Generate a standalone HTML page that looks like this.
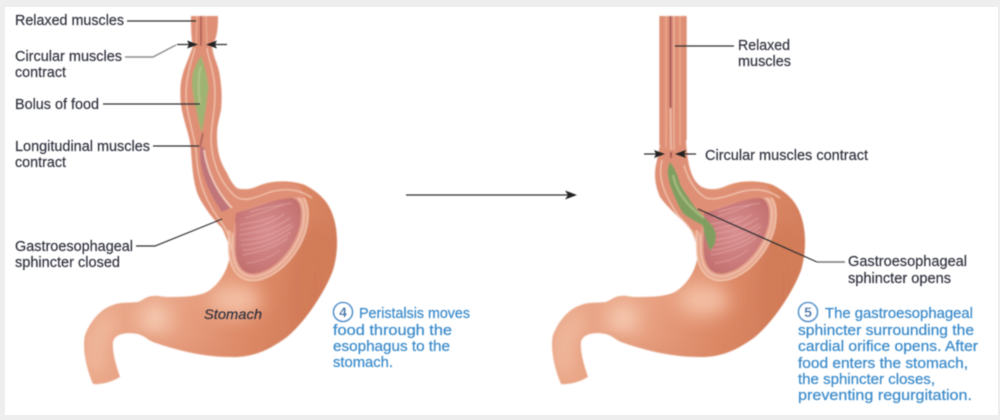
<!DOCTYPE html>
<html><head><meta charset="utf-8"><style>
html,body{margin:0;padding:0;background:#eeeeee}
svg{display:block}
.l{font:14.5px "Liberation Sans",Arial,sans-serif;fill:#2c2d3a;stroke:#2c2d3a;stroke-width:.15}
.b{font:14.5px "Liberation Sans",Arial,sans-serif;fill:#3d8ccb;stroke:#3d8ccb;stroke-width:.25}
</style></head><body>
<svg width="1000" height="420" viewBox="0 0 1000 420" xmlns="http://www.w3.org/2000/svg">
<defs>
<filter id="s" x="-5%" y="-5%" width="110%" height="110%"><feGaussianBlur stdDeviation="0.85"/></filter>
<filter id="t" x="-5%" y="-20%" width="110%" height="140%"><feGaussianBlur stdDeviation="0.55"/></filter>
<filter id="h" x="-50%" y="-50%" width="200%" height="200%"><feGaussianBlur stdDeviation="9"/></filter>
<linearGradient id="body" x1="0" y1="0" x2="1" y2="0.25">
<stop offset="0" stop-color="#eaa98b"/><stop offset="0.5" stop-color="#e8a283"/><stop offset="0.8" stop-color="#dc8865"/><stop offset="1" stop-color="#d27d5b"/>
</linearGradient>
<radialGradient id="cav" cx="0.5" cy="0.45" r="0.6">
<stop offset="0" stop-color="#d98f90"/><stop offset="1" stop-color="#c2706f"/>
</radialGradient>
<path id="sil" d="M230 247C231 265 222 281 210 290C203 295 193 297 170 297C160 297 158 295 153 296C147 296 143 300 138 302C128 303 120 302 113 305C100 309 90 322 85 335C82 350 87 370 93 384C100 385 112 382 120 377C116 365 112 352 113 342C115 333 128 332 138 334C145 336 148 340 153 342C170 348 200 357 230 357C255 358 272 348 287 337C305 322 325 292 333 270C339 250 338 228 332 213C327 200 318 192 305 185C290 180 272 180 258 186C250 190 240 190 234 187L205 200L222 228Z"/>
<path id="cavp" d="M233 213C245 212 270 200 287 198C298 196 302 205 301 218C300 240 280 268 258 273C245 276 238 268 236 255C234 240 238 225 233 213Z"/>
<clipPath id="cl"><use href="#sil"/></clipPath>
<g id="st">
<use href="#sil" fill="url(#body)"/>
<g clip-path="url(#cl)">
<ellipse cx="155" cy="318" rx="15" ry="15" fill="#f7cbb4" filter="url(#h)"/>
<path d="M97 372C92 350 95 330 113 318" fill="none" stroke="#f6c7ae" stroke-width="10" filter="url(#h)"/>
<ellipse cx="235" cy="300" rx="26" ry="16" fill="#f4bfa4" filter="url(#h)"/>
<ellipse cx="315" cy="285" rx="24" ry="60" fill="#d27a58" filter="url(#h)"/>
<path d="M130 340C170 352 200 358 240 358" fill="none" stroke="#d98a6c" stroke-width="6" filter="url(#h)"/>
</g>
<use href="#cavp" fill="none" stroke="#f3c9b4" stroke-width="15" stroke-linejoin="round"/>
<use href="#cavp" fill="none" stroke="#e8a88e" stroke-width="12.5" stroke-linejoin="round"/>
<use href="#cavp" fill="none" stroke="#f3cdbc" stroke-width="6.5" stroke-linejoin="round"/>
<use href="#cavp" fill="none" stroke="#e6a08a" stroke-width="4.5" stroke-linejoin="round"/>
<use href="#cavp" fill="url(#cav)"/>
<g fill="none" stroke="#e8adab" stroke-width="0.8" opacity="0.75">
<path d="M240 225C250 222 262 222 275 216"/><path d="M240 230C252 228 268 226 284 214"/><path d="M240 235C255 232 270 232 290 218"/><path d="M241 240C255 240 272 236 291 224"/><path d="M241 245C255 245 275 240 293 226"/><path d="M243 250C255 250 275 244 291 232"/><path d="M243 255C258 252 275 248 288 238"/><path d="M247 263C258 262 270 258 280 250"/><path d="M245 218C258 214 270 210 285 204"/><path d="M250 212C262 208 275 206 292 203"/>
</g>
</g>
</defs>
<rect x="0" y="0" width="1000" height="420" fill="#eeeeee"/>
<rect x="5" y="7" width="993" height="408" fill="#ffffff"/>

<g filter="url(#s)">
<use href="#st"/>
<use href="#st" transform="translate(468,0)"/>

<!-- left oesophagus -->
<path d="M191 16L218 16C218 30 217 38 212 46C213 58 219 65 220 77C222 90 222 100 221 110C219 120 217 125 217 135C217 150 219 160 227 173C230 180 234 187 240 190C248 192 256 188 262 186C272 182 288 182 300 186L305 198C285 196 262 203 236 213L233 235C232 228 226 232 222 228C214 220 204 208 198 195C193 182 192 165 191 150C190 135 183 120 181 105C180 95 180 85 182 77C184 68 189 58 193 46C191 38 191 25 191 16Z" fill="#df8f74"/>
<path d="M195 48C192 60 186 75 186 95C186 112 193 130 196 150C197 175 202 195 218 218C224 226 230 232 231 250" fill="none" stroke="#f3c8b3" stroke-width="1.2"/>
<path d="M207 48C208 60 215 70 215 95C215 112 211 125 211 140C212 165 222 185 236 197C245 202 255 198 270 192C285 188 300 189 312 198" fill="none" stroke="#f3c8b3" stroke-width="1.2"/>
<path d="M200 147C199 165 204 185 222 212L230 208C214 190 208 170 204 147Z" fill="#c0747a"/>
<path d="M204 150C207 170 215 190 232 208" fill="none" stroke="#f5d3c5" stroke-width="1.5"/>
<path d="M201 16L201 46M203 133L200 147" stroke="#9a4a4e" stroke-width="1.3" fill="none"/>
<path d="M197 16L196 45M206 16L207 45" stroke="#edb49e" stroke-width="1" fill="none"/>
<path d="M201 56C196 64 192 72 192 81C192 93 195 105 197 113C198 120 200 127 202 133C204 120 206 108 207 98C208 92 209 88 208 84C207 74 204 64 201 56Z" fill="#9fb372"/>
<path d="M201 66C198 75 198 88 200 105" stroke="#b4c389" stroke-width="2" fill="none"/>

<!-- right oesophagus -->
<path d="M660 16L686 16L686 140C687 160 690 175 697 183C705 192 720 192 733 188C745 184 756 182 768 186L773 198C753 196 730 203 704 213L701 235C700 228 694 232 690 228C680 218 668 208 660 197C655 185 654 175 656 165L660 145Z" fill="#df8f74"/>
<path d="M660 16L660 145M686 16L686 140" stroke="#d58468" stroke-width="1.2" fill="none"/>
<path d="M666 16L666 148M680 16L680 145" stroke="#eba98f" stroke-width="1.6" fill="none"/>
<path d="M670.5 16L670.5 108" stroke="#a1525a" stroke-width="1.8" fill="none"/>
<path d="M674 16L674 150" stroke="#efbfab" stroke-width="1" fill="none"/>
<path d="M670.5 108L671 150" stroke="#edc0ae" stroke-width="1.6" fill="none"/>
<path d="M671 152L671 158" stroke="#9a4a4e" stroke-width="1.8" fill="none"/>
<path d="M662 160C658 175 662 192 678 215C684 222 692 228 696 240" fill="none" stroke="#f3c8b3" stroke-width="1.2"/>
<path d="M684 165C688 180 696 192 706 198C716 201 730 195 740 192C755 188 768 189 780 198" fill="none" stroke="#f3c8b3" stroke-width="1.2"/>
<path d="M670 162C668 167 667 171 668 175C669 181 670 186 672 190C675 198 679 207 683 213C689 219 698 222 703 226C704 232 706 242 710 250C714 248 716 241 716 235C715 229 712 225 708 221C702 215 695 208 690 200C686 194 682 188 680 184C678 176 675 168 670 162Z" fill="#7f9e61"/>
<path d="M673 175C676 190 686 205 704 218" stroke="#a3b97f" stroke-width="2.4" fill="none"/>
</g>

<g filter="url(#t)" fill="none" stroke="#2f2f33" stroke-width="1.2">
<path d="M127 21L196 21"/>
<path d="M125 57L153 57L176 45" stroke="#8e8e8e" stroke-width="1.4"/>
<path d="M177 44.5L190 44.5M227 44.5L214 44.5"/>
<path d="M103 104L200 104"/>
<path d="M153 146L199 146"/>
<path d="M136 246L155 246L222 219"/>
<path d="M406 195L568 195"/>
<path d="M675 46L734 46"/>
<path d="M644 154L658 154M696 154L682 154"/>
<path d="M698 209L817 262" stroke="#2f2f33"/>
<path d="M817 262L845 262" stroke="#777" stroke-width="1.4"/>
<path d="M198 44.5L187 40.5L189 44.5L187 48.5ZM206 44.5L217 40.5L215 44.5L217 48.5ZM665 154L654 150L656 154L654 158ZM675 154L686 150L684 154L686 158ZM577 195L565 190.5L568 195L565 199.5Z" fill="#222" stroke="none"/>
</g>

<g filter="url(#t)">
<text class="l" x="15" y="25" textLength="109" lengthAdjust="spacingAndGlyphs">Relaxed muscles</text>
<text class="l" x="15" y="61" textLength="107" lengthAdjust="spacingAndGlyphs">Circular muscles</text>
<text class="l" x="15" y="77" textLength="51" lengthAdjust="spacingAndGlyphs">contract</text>
<text class="l" x="15" y="109" textLength="84" lengthAdjust="spacingAndGlyphs">Bolus of food</text>
<text class="l" x="15" y="151" textLength="135" lengthAdjust="spacingAndGlyphs">Longitudinal muscles</text>
<text class="l" x="15" y="167" textLength="51" lengthAdjust="spacingAndGlyphs">contract</text>
<text class="l" x="15" y="251" textLength="118" lengthAdjust="spacingAndGlyphs">Gastroesophageal</text>
<text class="l" x="15" y="267" textLength="105" lengthAdjust="spacingAndGlyphs">sphincter closed</text>
<text class="l" x="204" y="319" textLength="58" lengthAdjust="spacingAndGlyphs" style="font-style:italic;font-size:13.5px">Stomach</text>
<text class="l" x="738" y="50" textLength="52" lengthAdjust="spacingAndGlyphs">Relaxed</text>
<text class="l" x="738" y="66" textLength="53" lengthAdjust="spacingAndGlyphs">muscles</text>
<text class="l" x="705" y="160" textLength="163" lengthAdjust="spacingAndGlyphs">Circular muscles contract</text>
<text class="l" x="848" y="266" textLength="119" lengthAdjust="spacingAndGlyphs">Gastroesophageal</text>
<text class="l" x="848" y="283" textLength="103" lengthAdjust="spacingAndGlyphs">sphincter opens</text>

<circle cx="343" cy="312" r="9.5" fill="#fff" stroke="#4a90cc" stroke-width="1.6"/>
<text x="343" y="317" text-anchor="middle" style="font:bold 14px 'Liberation Sans',sans-serif;fill:#3a78ae">4</text>
<text class="b" x="359" y="318" textLength="111" lengthAdjust="spacingAndGlyphs">Peristalsis moves</text>
<text class="b" x="333" y="335" textLength="119" lengthAdjust="spacingAndGlyphs">food through the</text>
<text class="b" x="333" y="351" textLength="117" lengthAdjust="spacingAndGlyphs">esophagus to the</text>
<text class="b" x="333" y="367" textLength="60" lengthAdjust="spacingAndGlyphs">stomach.</text>

<circle cx="808" cy="312" r="9.5" fill="#fff" stroke="#4a90cc" stroke-width="1.6"/>
<text x="808" y="317" text-anchor="middle" style="font:bold 14px 'Liberation Sans',sans-serif;fill:#3a78ae">5</text>
<text class="b" x="825" y="318" textLength="148" lengthAdjust="spacingAndGlyphs">The gastroesophageal</text>
<text class="b" x="798" y="335" textLength="176" lengthAdjust="spacingAndGlyphs">sphincter surrounding the</text>
<text class="b" x="798" y="351" textLength="180" lengthAdjust="spacingAndGlyphs">cardial orifice opens. After</text>
<text class="b" x="798" y="368" textLength="170" lengthAdjust="spacingAndGlyphs">food enters the stomach,</text>
<text class="b" x="798" y="384" textLength="137" lengthAdjust="spacingAndGlyphs">the sphincter closes,</text>
<text class="b" x="798" y="400" textLength="174" lengthAdjust="spacingAndGlyphs">preventing regurgitation.</text>
</g>
</svg>
</body></html>
